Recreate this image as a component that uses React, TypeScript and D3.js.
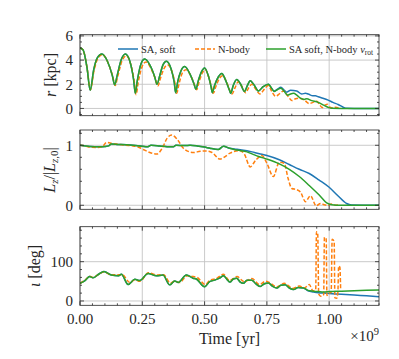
import React from "react";
import * as d3 from "d3";

// time in units of 1e9 yr
const xTicks = [0, 0.25, 0.5, 0.75, 1.0];
const xTickLabels = ["0.00", "0.25", "0.50", "0.75", "1.00"];

// r [kpc]
const rSA: [number, number][] = [
  [0, 5.0], [0.012, 4.85], [0.028, 3.4], [0.041, 1.5], [0.055, 3.2], [0.07, 4.2], [0.088, 4.5],
  [0.11, 3.9], [0.13, 2.7], [0.139, 1.95], [0.15, 2.8], [0.165, 4.0], [0.182, 4.5], [0.2, 3.9],
  [0.215, 2.4], [0.222, 1.25], [0.23, 2.3], [0.245, 3.7], [0.26, 4.08], [0.28, 3.6], [0.3, 2.6],
  [0.309, 2.0], [0.32, 2.7], [0.333, 3.6], [0.347, 3.9], [0.365, 3.3], [0.378, 2.2], [0.384, 1.3],
  [0.392, 2.2], [0.405, 3.1], [0.42, 3.47], [0.44, 2.9], [0.458, 2.0], [0.465, 1.58], [0.475, 2.3],
  [0.487, 3.0], [0.5, 3.35], [0.515, 2.7], [0.526, 1.8], [0.531, 1.3], [0.54, 1.9], [0.555, 2.6],
  [0.569, 2.9], [0.585, 2.3], [0.6, 1.5], [0.605, 1.25], [0.615, 1.9], [0.629, 2.4], [0.645, 2.0],
  [0.66, 1.4], [0.672, 1.9], [0.683, 2.3], [0.7, 1.9], [0.716, 1.45], [0.735, 1.8], [0.756, 2.0],
  [0.768, 1.7],
];
const rSoftTail: [number, number][] = [
  [0.779, 1.45], [0.793, 1.6], [0.806, 1.75], [0.82, 1.5], [0.83, 1.35], [0.845, 1.5], [0.87, 1.44],
  [0.89, 1.2], [0.905, 1.25], [0.916, 1.19], [0.935, 1.05], [0.945, 1.05], [0.956, 0.97],
  [0.975, 0.85], [0.996, 0.69], [1.015, 0.5], [1.036, 0.33], [1.055, 0.12], [1.071, 0.01],
  [1.1, 0], [1.2, 0],
];
const rVrotTail: [number, number][] = [
  [0.779, 1.4], [0.792, 1.55], [0.806, 1.67], [0.82, 1.4], [0.833, 1.1], [0.845, 1.2], [0.857, 1.25],
  [0.87, 1.1], [0.884, 0.85], [0.9, 0.75], [0.91, 0.8], [0.93, 0.65], [0.956, 0.5], [0.975, 0.3],
  [0.997, 0.08], [1.01, 0.01], [1.05, 0], [1.2, 0],
];
const rNbody: [number, number][] = [
  [0, 5.0], [0.012, 4.85], [0.028, 3.4], [0.042, 1.55], [0.056, 3.1], [0.072, 4.15], [0.09, 4.45],
  [0.112, 3.8], [0.132, 2.6], [0.141, 1.9], [0.152, 2.7], [0.168, 3.9], [0.185, 4.35], [0.203, 3.7],
  [0.218, 2.2], [0.225, 1.15], [0.234, 2.2], [0.25, 3.5], [0.265, 3.85], [0.285, 3.3], [0.303, 2.4],
  [0.312, 1.85], [0.323, 2.5], [0.337, 3.3], [0.352, 3.6], [0.37, 3.0], [0.382, 2.0], [0.388, 1.25],
  [0.397, 2.0], [0.41, 2.9], [0.425, 3.2], [0.445, 2.7], [0.462, 1.8], [0.468, 1.55], [0.478, 2.2],
  [0.49, 2.9], [0.503, 3.2], [0.518, 2.5], [0.53, 1.6], [0.535, 1.25], [0.545, 1.8], [0.56, 2.5],
  [0.573, 2.7], [0.59, 2.1], [0.61, 1.2], [0.622, 1.7], [0.635, 2.2], [0.65, 1.8], [0.665, 1.3],
  [0.677, 1.7], [0.69, 2.0], [0.705, 1.6], [0.722, 1.2], [0.74, 1.6], [0.755, 1.9], [0.77, 1.4],
  [0.785, 1.0], [0.8, 1.2], [0.817, 1.45], [0.835, 1.0], [0.85, 0.65], [0.865, 0.8], [0.88, 0.85],
  [0.9, 0.7], [0.92, 0.4], [0.935, 0.5], [0.95, 0.6], [0.962, 0.3], [0.972, 0.08], [0.985, 0.3],
  [0.993, 0.35], [1.003, 0.1], [1.015, 0.05], [1.025, 0.1], [1.04, 0.02],
];

// Lz / |Lz,0|
const lzSA: [number, number][] = [
  [0, 1.0], [0.04, 0.98], [0.08, 0.975], [0.1, 0.98], [0.115, 0.99], [0.125, 1.02], [0.15, 1.015],
  [0.2, 1.005], [0.25, 0.985], [0.27, 0.975], [0.285, 1.0], [0.32, 0.99], [0.36, 0.975],
  [0.375, 0.975], [0.385, 1.0], [0.42, 0.995], [0.442, 1.0], [0.47, 0.99], [0.5, 0.97],
  [0.522, 0.95], [0.555, 0.93], [0.576, 0.985], [0.6, 0.95],
];
const lzSoftTail: [number, number][] = [
  [0.63, 0.935], [0.67, 0.91], [0.7, 0.88], [0.72, 0.86], [0.75, 0.83], [0.8, 0.76], [0.84, 0.68],
  [0.88, 0.6], [0.92, 0.53], [0.96, 0.42], [1.0, 0.3], [1.035, 0.16], [1.07, 0.03], [1.09, 0.005],
  [1.2, 0],
];
const lzVrotTail: [number, number][] = [
  [0.63, 0.92], [0.67, 0.89], [0.7, 0.84], [0.72, 0.81], [0.75, 0.77], [0.8, 0.69], [0.84, 0.6],
  [0.88, 0.48], [0.92, 0.33], [0.96, 0.17], [0.99, 0.04], [1.01, 0.01], [1.05, 0], [1.2, 0],
];
const lzNbody: [number, number][] = [
  [0, 1.0], [0.02, 0.99], [0.04, 0.97], [0.07, 0.965], [0.09, 0.98], [0.107, 1.05], [0.13, 1.03],
  [0.147, 1.02], [0.18, 1.0], [0.214, 0.99], [0.24, 0.96], [0.254, 0.93], [0.28, 0.88],
  [0.308, 0.855], [0.33, 0.95], [0.35, 1.12], [0.368, 1.17], [0.39, 1.1], [0.415, 0.95],
  [0.44, 0.89], [0.455, 0.88], [0.482, 0.9], [0.509, 0.905], [0.53, 0.88], [0.562, 0.77],
  [0.585, 0.82], [0.602, 0.87], [0.643, 0.91], [0.66, 0.85], [0.683, 0.64], [0.705, 0.75],
  [0.73, 0.83], [0.75, 0.7], [0.776, 0.48], [0.8, 0.72], [0.82, 0.7], [0.835, 0.45], [0.85, 0.28],
  [0.87, 0.26], [0.885, 0.22], [0.905, 0.06], [0.925, 0.16], [0.948, -0.01], [0.965, 0.03],
  [0.98, 0.01], [0.995, 0.0], [1.01, 0.02], [1.025, 0.0], [1.04, 0.02],
];

// inclination [deg]
const incSA: [number, number][] = [
  [0, 45], [0.02, 52], [0.039, 62], [0.052, 59], [0.075, 68], [0.096, 75], [0.126, 66], [0.153, 64],
  [0.166, 68], [0.193, 42], [0.22, 55], [0.24, 52], [0.273, 70], [0.307, 64], [0.333, 66],
  [0.36, 41], [0.38, 51], [0.394, 47], [0.427, 66], [0.454, 58], [0.467, 56], [0.5, 36], [0.52, 49],
  [0.54, 53], [0.56, 58], [0.576, 64], [0.59, 55], [0.602, 48], [0.615, 56], [0.629, 58],
  [0.643, 48], [0.656, 45], [0.67, 53], [0.69, 53], [0.705, 44], [0.723, 37], [0.74, 44],
  [0.756, 46], [0.772, 38], [0.79, 33], [0.806, 40], [0.823, 41], [0.84, 33], [0.857, 29],
  [0.875, 34], [0.897, 33],
];
const incSoftTail: [number, number][] = [
  [0.915, 26], [0.937, 23], [0.957, 21], [0.977, 20], [1.0, 19], [1.05, 17], [1.1, 15], [1.15, 13],
  [1.2, 11],
];
const incVrotTail: [number, number][] = [
  [0.915, 27], [0.937, 25], [0.957, 24], [0.977, 23], [1.0, 24], [1.05, 25], [1.1, 26], [1.15, 27],
  [1.2, 28],
];
const incNbody: [number, number][] = [
  [0, 45], [0.02, 53], [0.039, 63], [0.052, 60], [0.075, 68], [0.096, 74], [0.126, 66], [0.15, 67],
  [0.17, 67], [0.2, 47], [0.22, 54], [0.24, 50], [0.275, 72], [0.31, 66], [0.335, 67], [0.363, 46],
  [0.38, 50], [0.4, 47], [0.43, 64], [0.455, 62], [0.47, 60], [0.502, 42], [0.52, 52], [0.55, 58],
  [0.575, 68], [0.6, 52], [0.63, 62], [0.66, 49], [0.69, 57], [0.72, 42], [0.745, 50], [0.76, 47],
  [0.79, 36], [0.82, 45], [0.855, 32], [0.88, 38], [0.9, 33], [0.92, 42], [0.935, 26], [0.946, 28],
  [0.949, 176], [0.954, 172], [0.958, 18], [0.966, 12], [0.978, 16], [0.981, 162], [0.988, 158],
  [0.991, 14], [1.0, 20], [1.008, 22], [1.012, 157], [1.02, 152], [1.023, 8], [1.03, 7],
  [1.035, 22], [1.038, 89], [1.043, 86], [1.046, 30],
];

const BLUE = "#1f77b4";
const ORANGE = "#ff7f0e";
const GREEN = "#2ca02c";
const FONT = '"Liberation Serif", "Times New Roman", serif';
const INK = "#262626";

const W = 399;
const H = 359;
const x = d3.scaleLinear().domain([0, 1.2]).range([80, 379]);

const panels = [
  {
    id: "r", top: 34.7, bottom: 115.7, domain: [-0.6, 6.1], major: [0, 2, 4, 6], minorStep: 0.5,
    soft: [...rSA, ...rSoftTail], vrot: [...rSA, ...rVrotTail], nbody: rNbody,
  },
  {
    id: "lz", top: 130, bottom: 209.3, domain: [-0.067, 1.255], major: [0, 1], minorStep: 0.2,
    soft: [...lzSA, ...lzSoftTail], vrot: [...lzSA, ...lzVrotTail], nbody: lzNbody,
  },
  {
    id: "inc", top: 226.7, bottom: 305.3, domain: [-11, 189], major: [0, 100], minorStep: 20,
    soft: [...incSA, ...incSoftTail], vrot: [...incSA, ...incVrotTail], nbody: incNbody,
  },
];

function Panel({ p, last }: { p: any; last: boolean }) {
  const y = d3.scaleLinear().domain(p.domain).range([p.bottom, p.top]);
  const line = d3
    .line<[number, number]>()
    .x((d) => x(d[0]))
    .y((d) => y(d[1]))
    .curve(d3.curveMonotoneX);
  const xMinor = d3.range(0, 1.2001, 0.05).filter((v) => !xTicks.some((t) => Math.abs(t - v) < 1e-6));
  const yMinor = d3
    .range(Math.ceil(p.domain[0] / p.minorStep) * p.minorStep, p.domain[1], p.minorStep)
    .filter((v: number) => !p.major.some((t: number) => Math.abs(t - v) < 1e-6));
  const x0 = x(0);
  const x1 = x(1.2);
  return (
    <g>
      <defs>
        <clipPath id={"clip-" + p.id}>
          <rect x={x0} y={p.top} width={x1 - x0} height={p.bottom - p.top} />
        </clipPath>
      </defs>
      {/* grid */}
      {xTicks.map((t) => (
        <line key={"gx" + t} x1={x(t)} x2={x(t)} y1={p.top} y2={p.bottom} stroke="#c4c4c4" strokeWidth={0.9} />
      ))}
      {p.major.map((t: number) => (
        <line key={"gy" + t} x1={x0} x2={x1} y1={y(t)} y2={y(t)} stroke="#c4c4c4" strokeWidth={0.9} />
      ))}
      {/* series */}
      <g clipPath={`url(#clip-${p.id})`} fill="none" strokeWidth={1.5}>
        <path d={line(p.soft) || ""} stroke={BLUE} />
        <path d={line(p.nbody) || ""} stroke={ORANGE} strokeDasharray="4,2" />
        <path d={line(p.vrot) || ""} stroke={GREEN} />
      </g>
      {/* ticks */}
      <g stroke={INK} strokeWidth={0.8}>
        {xTicks.map((t) => (
          <g key={"tx" + t}>
            <line x1={x(t)} x2={x(t)} y1={p.bottom} y2={p.bottom - 4} />
            <line x1={x(t)} x2={x(t)} y1={p.top} y2={p.top + 4} />
          </g>
        ))}
        {xMinor.map((t) => (
          <g key={"mx" + t}>
            <line x1={x(t)} x2={x(t)} y1={p.bottom} y2={p.bottom - 2} />
            <line x1={x(t)} x2={x(t)} y1={p.top} y2={p.top + 2} />
          </g>
        ))}
        {p.major.map((t: number) => (
          <g key={"ty" + t}>
            <line x1={x0} x2={x0 + 4} y1={y(t)} y2={y(t)} />
            <line x1={x1} x2={x1 - 4} y1={y(t)} y2={y(t)} />
          </g>
        ))}
        {yMinor.map((t: number) => (
          <g key={"my" + t}>
            <line x1={x0} x2={x0 + 2} y1={y(t)} y2={y(t)} />
            <line x1={x1} x2={x1 - 2} y1={y(t)} y2={y(t)} />
          </g>
        ))}
      </g>
      <rect x={x0} y={p.top} width={x1 - x0} height={p.bottom - p.top} fill="none" stroke={INK} strokeWidth={0.8} />
      {/* y tick labels */}
      {p.major.map((t: number) => (
        <text key={"ly" + t} x={x0 - 7} y={y(t)} dy="0.35em" textAnchor="end" fontSize={15} fill={INK}
          style={{ fontFamily: FONT }}>
          {t}
        </text>
      ))}
      {last &&
        xTicks.map((t, i) => (
          <text key={"lx" + t} x={x(t)} y={p.bottom + 19} textAnchor="middle" fontSize={15} fill={INK}
            style={{ fontFamily: FONT }}>
            {xTickLabels[i]}
          </text>
        ))}
    </g>
  );
}

export default function App() {
  const legendItems = [
    { x: 118, color: BLUE, dash: undefined as string | undefined, label: <tspan>SA, soft</tspan> },
    { x: 195, color: ORANGE, dash: "4,2", label: <tspan>N-body</tspan> },
    {
      x: 266,
      color: GREEN,
      dash: undefined,
      label: (
        <>
          <tspan>SA soft, N-body </tspan>
          <tspan fontStyle="italic">v</tspan>
          <tspan fontSize={7.5} dy={2}>rot</tspan>
        </>
      ),
    },
  ];
  const tf = { fontFamily: FONT };
  return (
    <svg width={W} height={H} style={{ position: "absolute", left: 0, top: 0, background: "#fff", fontFamily: FONT }}>
      {panels.map((p, i) => (
        <Panel key={p.id} p={p} last={i === panels.length - 1} />
      ))}
      {/* legend */}
      {legendItems.map((it, i) => (
        <g key={i}>
          <line x1={it.x} x2={it.x + 20} y1={49} y2={49} stroke={it.color} strokeWidth={1.5} strokeDasharray={it.dash} />
          <text x={it.x + 23} y={52.5} fontSize={10.5} fill={INK} style={tf}>
            {it.label}
          </text>
        </g>
      ))}
      {/* y labels */}
      <text transform="translate(56,75) rotate(-90)" textAnchor="middle" fontSize={16} fill={INK} style={tf}>
        <tspan fontStyle="italic">r</tspan> [kpc]
      </text>
      <text transform="translate(55,170) rotate(-90)" textAnchor="middle" fontSize={16} fill={INK} style={tf}>
        <tspan fontStyle="italic">L</tspan>
        <tspan fontStyle="italic" fontSize={11} dy={3}>z</tspan>
        <tspan dy={-3}>/|</tspan>
        <tspan fontStyle="italic">L</tspan>
        <tspan fontStyle="italic" fontSize={11} dy={3}>z</tspan>
        <tspan fontSize={11}>,0</tspan>
        <tspan dy={-3}>|</tspan>
      </text>
      <text transform="translate(40,266) rotate(-90)" textAnchor="middle" fontSize={16} fill={INK} style={tf}>
        <tspan fontStyle="italic">ι</tspan> [deg]
      </text>
      {/* x label */}
      <text x={229.5} y={344} textAnchor="middle" fontSize={16} fill={INK} style={tf}>
        Time [yr]
      </text>
      <text x={379} y={341} textAnchor="end" fontSize={15} fill={INK} style={tf}>
        ×10<tspan fontSize={10.5} dy={-6}>9</tspan>
      </text>
    </svg>
  );
}
